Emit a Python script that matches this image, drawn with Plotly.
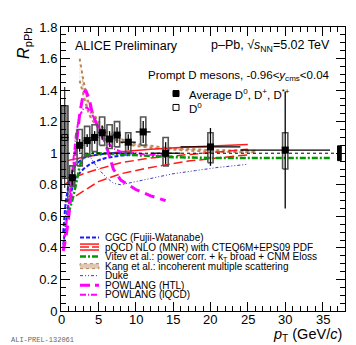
import plotly.graph_objects as go

# --- data --------------------------------------------------------------
# D0 only, 0-1 GeV/c
d0_x = [0.5]
d0_xerr = [0.5]
d0_y = [1.10]
d0_stat = [0.32]
d0_sys_fill = [(0.84, 1.30)]
d0_sys_open = [(0.70, 1.30)]

# average D0, D+, D*+
avg_x = [1.5, 2.5, 3.5, 4.5, 5.5, 6.5, 7.5, 9, 11, 14, 20, 30]
avg_xerr = [0.5, 0.5, 0.5, 0.5, 0.5, 0.5, 0.5, 1, 1, 2, 4, 6]
avg_y = [0.845, 1.05, 1.08, 1.10, 1.13, 1.09, 1.115, 1.07, 1.135, 1.00, 1.04, 1.02]
avg_stat = [0.05, 0.04, 0.04, 0.04, 0.045, 0.05, 0.05, 0.05, 0.07, 0.07, 0.12, 0.37]
avg_sys_lo = [0.79, 0.92, 0.98, 1.01, 1.05, 1.03, 1.04, 1.00, 1.05, 0.92, 0.94, 0.90]
avg_sys_hi = [0.92, 1.15, 1.17, 1.18, 1.23, 1.18, 1.20, 1.13, 1.23, 1.10, 1.13, 1.13]

norm_x = 37.25
norm_lo, norm_hi = 0.953, 1.047

# models
cgc_x = [0.3, 0.6, 1, 1.5, 2, 3, 4, 5, 6, 8, 10]
cgc_hi = [0.50, 0.68, 0.80, 0.88, 0.93, 0.97, 0.985, 0.99, 1.0, 1.0, 1.0]
cgc_lo = [0.42, 0.55, 0.68, 0.78, 0.85, 0.90, 0.935, 0.955, 0.97, 0.985, 0.99]

mnr_x = [0.5, 1, 2, 3, 5, 8, 12, 17, 25]
mnr_hi = [0.95, 0.955, 0.965, 0.975, 0.99, 1.01, 1.025, 1.04, 1.055]
mnr_mid = [0.80, 0.82, 0.85, 0.87, 0.90, 0.94, 0.97, 0.99, 1.025]
mnr_lo = [0.69, 0.70, 0.73, 0.76, 0.82, 0.87, 0.91, 0.95, 0.99]

vitev_x = [1, 1.5, 2, 2.5, 3, 4, 5, 7, 10, 15, 20, 30, 36]
vitev_y = [0.62, 0.70, 0.80, 0.92, 0.98, 1.0, 1.0, 0.995, 0.985, 0.975, 0.97, 0.97, 0.97]

kang_x = [2.5, 3, 3.5, 4, 5, 6, 8, 10, 14, 20, 26]
kang_hi = [1.60, 1.46, 1.35, 1.28, 1.20, 1.14, 1.09, 1.06, 1.035, 1.02, 1.015]
kang_lo = [1.46, 1.36, 1.28, 1.22, 1.16, 1.11, 1.07, 1.045, 1.025, 1.01, 1.005]

duke_x = [0.5, 1, 1.5, 2, 3, 4, 5, 6, 7, 8, 10, 12, 15, 18, 21, 25]
duke_y = [0.55, 0.75, 0.88, 0.95, 0.99, 0.97, 0.90, 0.85, 0.81, 0.80, 0.82, 0.84, 0.87, 0.89, 0.91, 0.93]

htl_x = [0.3, 0.6, 1, 1.5, 2, 2.5, 3, 3.3, 3.8, 4.2, 5, 5.8, 6.3, 7, 8, 10, 12, 14]
htl_y = [0.38, 0.45, 0.58, 0.80, 1.05, 1.25, 1.38, 1.40, 1.34, 1.25, 1.16, 1.08, 1.01, 0.90, 0.83, 0.77, 0.73, 0.70]

lqcd_x = [0.3, 0.6, 1, 1.5, 2, 2.5, 3, 3.5, 4, 5, 6, 7, 8, 10, 12, 14]
lqcd_y = [0.40, 0.50, 0.65, 0.88, 1.12, 1.24, 1.28, 1.29, 1.26, 1.17, 1.08, 1.03, 1.01, 1.0, 0.99, 0.99]

model_names = [
    "CGC (Fujii-Watanabe)",
    "pQCD NLO (MNR) with CTEQ6M+EPS09 PDF",
    "Vitev et al.: power corr. + k<sub>T</sub> broad + CNM Eloss",
    "Kang et al.: incoherent multiple scattering",
    "Duke",
    "POWLANG (HTL)",
    "POWLANG (lQCD)",
]

x_ticks = [0, 5, 10, 15, 20, 25, 30, 35]

FONT = "Liberation Sans, Arial, sans-serif"
BLUE, RED, GREEN, BROWN = "#1a1aff", "#ff1a1a", "#009a00", "#b8875a"
NAVY, MAGENTA = "#3a3ab0", "#ff00ff"

W, H = 356, 345
L, R, T, B = 53, 19, 17, 42


def px2paper(px, py):
    return (px - L) / (W - L - R), (H - B - py) / (H - T - B)


fig = go.Figure()


def line(x, y, color, width, dash):
    fig.add_trace(go.Scatter(x=x, y=y, mode="lines", showlegend=False,
                             line=dict(color=color, width=width, dash=dash),
                             hoverinfo="skip"))


# models
fig.add_trace(go.Scatter(x=kang_x, y=kang_hi, mode="lines", showlegend=False,
                         line=dict(color=BROWN, width=2, dash="dot")))
fig.add_trace(go.Scatter(x=kang_x, y=kang_lo, mode="lines", showlegend=False,
                         line=dict(color=BROWN, width=2, dash="dot"),
                         fill="tonexty", fillcolor="rgba(0,0,0,0)",
                         fillpattern=dict(shape=".", fgcolor=BROWN, size=4, solidity=0.4)))
line(mnr_x, mnr_hi, RED, 1.5, "solid")
line(mnr_x, mnr_mid, RED, 1.5, "9px,4px")
line(mnr_x, mnr_lo, RED, 1.5, "9px,4px")
line(cgc_x, cgc_hi, BLUE, 2, "4px,2px")
line(cgc_x, cgc_lo, BLUE, 2, "4px,2px")
line(vitev_x, vitev_y, GREEN, 2.5, "6px,2px,2px,2px")
line(duke_x, duke_y, NAVY, 1, "3px,2px,1px,2px,1px,2px")
line(htl_x, htl_y, MAGENTA, 3, "10px,6px")
line(lqcd_x, lqcd_y, MAGENTA, 2, "6px,2px,1px,2px")

# y = 1 reference line
fig.add_shape(type="line", x0=0, x1=37, y0=1, y1=1,
              line=dict(color="black", width=1, dash="dot"))


def boxes(xs, los, his, hw, color, width, fill):
    bx, by = [], []
    for x, lo, hi in zip(xs, los, his):
        bx += [x - hw, x + hw, x + hw, x - hw, x - hw, None]
        by += [lo, lo, hi, hi, lo, None]
    fig.add_trace(go.Scatter(x=bx, y=by, mode="lines", fill="toself",
                             fillcolor=fill, showlegend=False, hoverinfo="skip",
                             line=dict(color=color, width=width)))


boxes(d0_x, [s[0] for s in d0_sys_open], [s[1] for s in d0_sys_open], 0.42,
      "#333333", 1.2, "rgba(0,0,0,0)")
boxes(d0_x, [s[0] for s in d0_sys_fill], [s[1] for s in d0_sys_fill], 0.42,
      "#444444", 1.2, "#8c8c8c")
boxes(avg_x, avg_sys_lo, avg_sys_hi, 0.35, "#555555", 1.6, "rgba(0,0,0,0)")
boxes([norm_x], [norm_lo], [norm_hi], 0.25, "black", 1, "black")

# data points
fig.add_trace(go.Scatter(
    x=d0_x, y=d0_y, mode="markers", showlegend=False,
    marker=dict(symbol="square-open", size=6, color="black", line=dict(width=1)),
    error_x=dict(type="data", array=d0_xerr, width=0, color="black", thickness=1),
    error_y=dict(type="data", array=d0_stat, width=0, color="black", thickness=1)))
fig.add_trace(go.Scatter(
    x=avg_x, y=avg_y, mode="markers", showlegend=False,
    marker=dict(symbol="square", size=7, color="black"),
    error_x=dict(type="data", array=avg_xerr, width=0, color="black", thickness=1.3),
    error_y=dict(type="data", array=avg_stat, width=0, color="black", thickness=1.3)))

# --- manual legends -----------------------------------------------------
ann = []


def text(px, py, s, size, anchor="left", family=FONT, **kw):
    x, y = px2paper(px, py)
    ann.append(dict(x=x, y=y, xref="paper", yref="paper", text=s, showarrow=False,
                    xanchor=anchor, yanchor="middle",
                    font=dict(family=family, size=size, color=kw.pop("color", "black")), **kw))


def seg(px0, px1, py, color, width, dash="solid"):
    x0, y0 = px2paper(px0, py)
    x1, _ = px2paper(px1, py)
    fig.add_shape(type="line", xref="paper", yref="paper", x0=x0, x1=x1, y0=y0, y1=y0,
                  line=dict(color=color, width=width, dash=dash))


def square(px, py, half, filled):
    x0, y0 = px2paper(px - half, py + half)
    x1, y1 = px2paper(px + half, py - half)
    fig.add_shape(type="rect", xref="paper", yref="paper", x0=x0, x1=x1, y0=y0, y1=y1,
                  line=dict(color="black", width=1),
                  fillcolor="black" if filled else "white")


square(168, 84, 3, True)
square(168, 98, 3, False)
text(179, 84, "Average D<sup>0</sup>, D<sup>+</sup>, D<sup>*+</sup>", 11.5)
text(179, 99, "D<sup>0</sup>", 11.5)

leg_y = [229, 238.6, 248.2, 257.8, 267.4, 277, 286.6]
sx0, sx1 = 72, 91
seg(sx0, sx1, leg_y[0], BLUE, 2, "4px,2px")
seg(sx0, sx1, leg_y[1] - 3, RED, 1.5)
seg(sx0, sx1, leg_y[1], RED, 1.5, "9px,3px")
seg(sx0, sx1, leg_y[1] + 3, RED, 1.5)
seg(sx0, sx1, leg_y[2], GREEN, 2.5, "6px,2px,2px,2px")
kx0, ky0 = px2paper(sx0, leg_y[3] + 2.5)
kx1, ky1 = px2paper(sx1, leg_y[3] - 2.5)
fig.add_shape(type="rect", xref="paper", yref="paper", x0=kx0, x1=kx1, y0=ky0, y1=ky1,
              line=dict(color=BROWN, width=1, dash="dot"), fillcolor="rgba(184,135,90,0.45)")
seg(sx0, sx1, leg_y[4], NAVY, 1, "3px,2px,1px,2px,1px,2px")
seg(sx0, sx1, leg_y[5], MAGENTA, 3, "10px,5px")
seg(sx0, sx1, leg_y[6], MAGENTA, 2, "6px,2px,1px,2px")
for yy, name in zip(leg_y, model_names):
    text(95, yy, name, 10)

# headers and axis titles
text(65, 36, "ALICE Preliminary", 12.5)
text(324, 36, "p\u2013Pb, \u221a<i>s</i><sub>NN</sub>=5.02 TeV", 12.5, anchor="right")
text(324, 66, "Prompt D mesons, -0.96&lt;<i>y</i><sub>cms</sub>&lt;0.04", 11.5, anchor="right")
text(17, 34, "<i>R</i><sub>pPb</sub>", 16, anchor="center", textangle=-90)
text(336, 327, "<i>p</i><sub>T</sub> (GeV/<i>c</i>)", 14.5, anchor="right")
text(1, 332, "ALI-PREL-132061", 7, color="#666666", family="Liberation Mono, monospace")

# x tick labels sit closer to the axis than plotly's default
_, tick_y = px2paper(0, 312)
for v in x_ticks:
    ann.append(dict(x=v, xref="x", y=tick_y, yref="paper", text=str(v), showarrow=False,
                    xanchor="center", yanchor="middle",
                    font=dict(family=FONT, size=13, color="black")))

axis_common = dict(showline=True, linecolor="black", linewidth=1, mirror="ticks",
                   ticks="inside", ticklen=9, tickcolor="black", showgrid=False,
                   zeroline=False, tickfont=dict(family=FONT, size=13, color="black"))

fig.update_layout(
    width=W, height=H,
    margin=dict(l=L, r=R, t=T, b=B),
    paper_bgcolor="white", plot_bgcolor="white",
    annotations=ann,
    xaxis=dict(range=[0, 38], tickvals=x_ticks, showticklabels=False,
               minor=dict(dtick=1, ticks="inside", ticklen=5, tickcolor="black"),
               **axis_common),
    yaxis=dict(range=[0, 1.8], dtick=0.2, tick0=0, tickformat="~g",
               minor=dict(dtick=0.05, ticks="inside", ticklen=5, tickcolor="black"),
               **axis_common),
)

fig.write_html("out.html")
